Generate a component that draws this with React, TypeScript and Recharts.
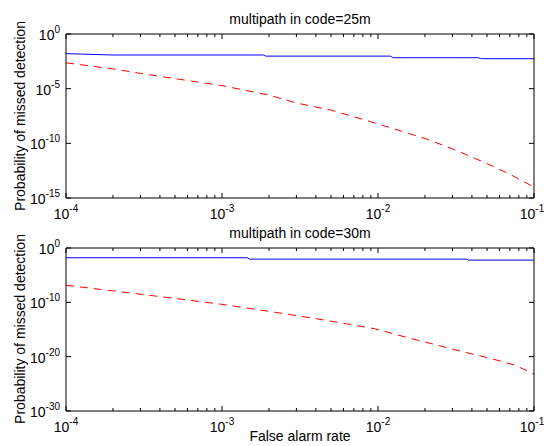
import React from 'react';
import { LineChart, Line, XAxis, YAxis } from 'recharts';

const FONT = '"Liberation Sans", Arial, Helvetica, sans-serif';

// ---- Data (false alarm rate vs probability of missed detection) ----
const TITLE_TOP = 'multipath in code=25m';
const TITLE_BOTTOM = 'multipath in code=30m';
const X_LABEL = 'False alarm rate';
const Y_LABEL = 'Probability of missed detection';

// Top panel (25 m)
const FA_TOP_BLUE = [1e-4, 2e-4, 1.85e-3, 1.9e-3, 1.2e-2, 1.25e-2, 4.4e-2, 4.6e-2, 1e-1];
const PMD_TOP_BLUE = [0.016, 0.012, 0.012, 0.0095, 0.0095, 0.0068, 0.0068, 0.0055, 0.0055];
const FA_TOP_RED = [1e-4, 2e-4, 3e-4, 5e-4, 1e-3, 2e-3, 3e-3, 5e-3, 1e-2, 2e-2, 3e-2, 5e-2, 7e-2, 1e-1];
const PMD_TOP_RED = [2.3e-3, 6.5e-4, 2.5e-4, 8.3e-5, 1.9e-5, 2.6e-6, 4.9e-7, 1.1e-7, 6.0e-9, 2.8e-10, 3.2e-11, 1.4e-12, 1.5e-13, 1.0e-14];

// Bottom panel (30 m)
const FA_BOT_BLUE = [1e-4, 1.45e-3, 1.5e-3, 3.7e-2, 3.8e-2, 1e-1];
const PMD_BOT_BLUE = [0.016, 0.016, 0.009, 0.009, 0.0059, 0.0059];
const FA_BOT_RED = [1e-4, 2e-4, 5e-4, 1e-3, 2e-3, 4e-3, 6.3e-3, 9.5e-3, 1.6e-2, 2.3e-2, 3.4e-2, 5.4e-2, 7.6e-2, 1e-1];
const PMD_BOT_RED = [1.4e-7, 1.3e-8, 5.2e-10, 4.3e-11, 2.2e-12, 1.0e-13, 1.1e-14, 1.4e-15, 2.5e-17, 1.8e-18, 1.0e-19, 4.0e-21, 2.5e-22, 6.3e-24];

// Ticks
const X_DOMAIN: [number, number] = [1e-4, 1e-1];
const X_DECADES = [1e-4, 1e-3, 1e-2];
const X_MULT = [1, 2, 3, 4, 5, 6, 7, 8, 9];
const X_TICKS = [...X_DECADES.flatMap((d) => X_MULT.map((m) => m * d)), 1e-1];
const Y_TICKS_TOP = [1e-15, 1e-10, 1e-5, 1];
const Y_DOMAIN_TOP: [number, number] = [1e-15, 1];
const Y_TICKS_BOT = [1e-30, 1e-20, 1e-10, 1];
const Y_DOMAIN_BOT: [number, number] = [1e-30, 1];

const toPoints = (xs: number[], ys: number[]) => xs.map((x, i) => ({ x, y: ys[i] }));

const isMajor = (v: number) => {
  const l = Math.log10(v);
  return Math.abs(l - Math.round(l)) < 1e-6;
};
const expOf = (v: number) => String(Math.round(Math.log10(v)));

const Pow = ({ x, y, v, anchor }: any) => (
  <text x={x} y={y} textAnchor={anchor} fontFamily={FONT} fontSize={14} fill="#000">
    <tspan>10</tspan>
    <tspan dy={-7} fontSize={10}>{expOf(v)}</tspan>
  </text>
);

const XBottomTick = (props: any) => {
  const { x, y, payload } = props;
  const v = payload.value;
  const major = isMajor(v);
  const last = v >= 0.099;
  return (
    <g>
      <line x1={x} x2={x} y1={y} y2={y - (major ? 5 : 3)} stroke="#000" />
      {major && <Pow x={last ? x - 2 : x} y={y + 21} v={v} anchor="middle" />}
    </g>
  );
};

const XTopTick = (props: any) => {
  const { x, y, payload } = props;
  const major = isMajor(payload.value);
  return <line x1={x} x2={x} y1={y} y2={y + (major ? 5 : 3)} stroke="#000" />;
};

const YLeftTick = (props: any) => {
  const { x, y, payload } = props;
  return (
    <g>
      <line x1={x} x2={x + 5} y1={y} y2={y} stroke="#000" />
      <Pow x={x - 6} y={y + 6} v={payload.value} anchor="end" />
    </g>
  );
};

const YRightTick = (props: any) => {
  const { x, y } = props;
  return <line x1={x} x2={x - 5} y1={y} y2={y} stroke="#000" />;
};

const axisCommon = {
  type: 'number' as const,
  scale: 'log' as const,
  allowDataOverflow: true,
  interval: 0 as const,
  tickSize: 0,
  tickMargin: 0,
  tickLine: false,
  axisLine: { stroke: '#000' },
};

const Panel = ({ height, margin, yTicks, yDomain, blue, red }: any) => (
  <LineChart width={544} height={height} margin={margin}>
    <XAxis
      {...axisCommon}
      xAxisId="b"
      orientation="bottom"
      dataKey="x"
      domain={X_DOMAIN}
      ticks={X_TICKS}
      tick={(p: any) => <XBottomTick {...p} />}
      height={1}
    />
    <XAxis
      {...axisCommon}
      xAxisId="t"
      orientation="top"
      dataKey="x"
      domain={X_DOMAIN}
      ticks={X_TICKS}
      tick={(p: any) => <XTopTick {...p} />}
      height={1}
    />
    <YAxis
      {...axisCommon}
      yAxisId="l"
      orientation="left"
      domain={yDomain}
      ticks={yTicks}
      tick={(p: any) => <YLeftTick {...p} />}
      width={1}
    />
    <YAxis
      {...axisCommon}
      yAxisId="r"
      orientation="right"
      domain={yDomain}
      ticks={yTicks}
      tick={(p: any) => <YRightTick {...p} />}
      width={1}
    />
    <Line
      xAxisId="b"
      yAxisId="l"
      data={blue}
      dataKey="y"
      type="linear"
      stroke="#0000ff"
      strokeWidth={1}
      dot={false}
      isAnimationActive={false}
    />
    <Line
      xAxisId="b"
      yAxisId="l"
      data={red}
      dataKey="y"
      type="linear"
      stroke="#ff0000"
      strokeWidth={1}
      strokeDasharray="8 6"
      dot={false}
      isAnimationActive={false}
    />
  </LineChart>
);

export default function App() {
  return (
    <div style={{ position: 'absolute', left: 0, top: 0, width: 544, height: 446, background: '#fff' }}>
      <div style={{ position: 'absolute', left: 0, top: 0 }}>
        <Panel
          height={222}
          margin={{ top: 33, right: 9, bottom: 23, left: 65 }}
          yTicks={Y_TICKS_TOP}
          yDomain={Y_DOMAIN_TOP}
          blue={toPoints(FA_TOP_BLUE, PMD_TOP_BLUE)}
          red={toPoints(FA_TOP_RED, PMD_TOP_RED)}
        />
      </div>
      <div style={{ position: 'absolute', left: 0, top: 222 }}>
        <Panel
          height={224}
          margin={{ top: 25, right: 9, bottom: 34, left: 65 }}
          yTicks={Y_TICKS_BOT}
          yDomain={Y_DOMAIN_BOT}
          blue={toPoints(FA_BOT_BLUE, PMD_BOT_BLUE)}
          red={toPoints(FA_BOT_RED, PMD_BOT_RED)}
        />
      </div>
      <svg
        width={544}
        height={446}
        style={{ position: 'absolute', left: 0, top: 0, pointerEvents: 'none' }}
      >
        <g fontFamily={FONT} fontSize={14} fill="#000">
          <text x={300} y={24} textAnchor="middle">{TITLE_TOP}</text>
          <text x={300} y={238} textAnchor="middle">{TITLE_BOTTOM}</text>
          <text transform="translate(25,116) rotate(-90)" textAnchor="middle">{Y_LABEL}</text>
          <text transform="translate(25,329) rotate(-90)" textAnchor="middle">{Y_LABEL}</text>
          <text x={300} y={441} textAnchor="middle">{X_LABEL}</text>
        </g>
      </svg>
    </div>
  );
}
